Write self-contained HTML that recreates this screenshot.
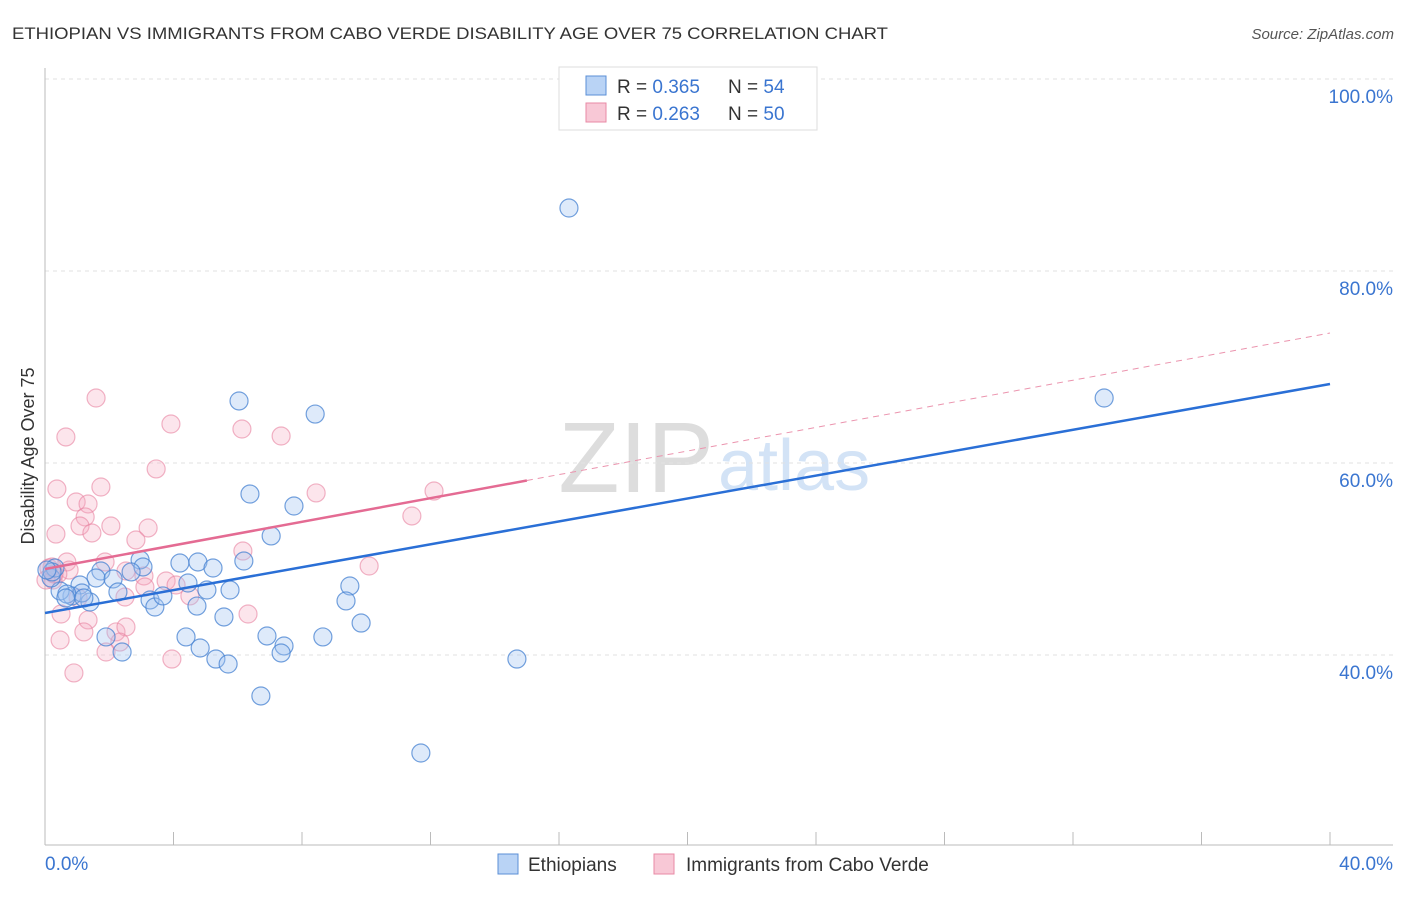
<!DOCTYPE html>
<html><head><meta charset="utf-8"><style>
body{margin:0;background:#fff;font-family:"Liberation Sans",sans-serif}
svg text{font-family:"Liberation Sans",sans-serif}
</style></head><body>
<svg id="c" width="1406" height="892">
<text x="12" y="39" font-size="17" fill="#333" textLength="876" lengthAdjust="spacingAndGlyphs">ETHIOPIAN VS IMMIGRANTS FROM CABO VERDE DISABILITY AGE OVER 75 CORRELATION CHART</text>
<text x="1394" y="39" font-size="15" fill="#555" font-style="italic" text-anchor="end">Source: ZipAtlas.com</text>
<text x="714" y="492" font-size="100" fill="#ddd" text-anchor="end" font-family="Liberation Serif">ZIP</text>
<text x="718" y="490" font-size="72" fill="#d3e3f6">atlas</text>
<text x="34" y="456" font-size="18" fill="#333" text-anchor="middle" transform="rotate(-90 34 456)">Disability Age Over 75</text>
<g id="grid"></g><g id="pts"></g><g id="lines"></g>
<g>
<rect x="559" y="67" width="258" height="63" fill="#fff" stroke="#ddd"/>
<rect x="586" y="76" width="20" height="19" fill="#b9d3f5" stroke="#5b8fd6"/>
<rect x="586" y="103" width="20" height="19" fill="#f8c8d6" stroke="#e88aa5"/>
<text x="617" y="93" font-size="19" fill="#333">R = <tspan fill="#3a75d0">0.365</tspan></text>
<text x="728" y="93" font-size="19" fill="#333">N = <tspan fill="#3a75d0">54</tspan></text>
<text x="617" y="120" font-size="19" fill="#333">R = <tspan fill="#3a75d0">0.263</tspan></text>
<text x="728" y="120" font-size="19" fill="#333">N = <tspan fill="#3a75d0">50</tspan></text>
</g>
<g>
<rect x="498" y="854" width="20" height="20" fill="#b9d3f5" stroke="#5b8fd6"/>
<text x="528" y="871" font-size="19" fill="#333">Ethiopians</text>
<rect x="654" y="854" width="20" height="20" fill="#f8c8d6" stroke="#e88aa5"/>
<text x="686" y="871" font-size="19" fill="#333">Immigrants from Cabo Verde</text>
</g>
</svg>
<script>
const blueX=[16.31,32.97,6.04,8.41,6.38,7.75,7.04,2.96,4.20,4.76,6.19,5.23,3.05,2.68,1.74,1.59,2.12,1.09,4.45,5.04,5.76,3.27,3.42,3.67,4.73,5.57,9.49,9.37,9.84,0.84,1.40,1.15,0.47,0.68,2.27,0.19,0.31,4.39,4.83,5.32,5.70,1.90,2.40,6.91,7.44,7.35,8.65,6.72,11.70,14.69,0.22,0.65,1.21,0.06];
const blueY=[86.56,66.77,66.46,65.10,56.77,55.52,52.40,49.90,49.58,49.69,49.79,49.06,49.17,48.65,48.75,48.02,47.92,47.29,47.50,46.77,46.77,45.73,45.00,46.15,45.10,43.96,47.19,45.63,43.33,46.15,45.52,46.46,46.67,46.35,46.56,48.02,49.06,41.88,40.73,39.58,39.06,41.88,40.31,41.98,40.94,40.21,41.88,35.73,29.79,39.58,48.65,45.94,45.94,48.85];
const pinkX=[1.59,3.92,0.65,6.13,7.35,3.46,0.37,1.74,0.97,1.34,1.25,1.09,0.34,1.46,2.05,3.21,2.83,6.16,8.44,12.11,11.42,10.09,0.68,0.75,0.40,0.12,0.25,2.52,3.08,3.77,4.08,3.11,4.51,1.87,0.50,1.34,1.21,0.47,2.21,2.52,2.33,1.90,3.95,0.90,6.32,0.03,0.28,0.22,1.03,2.49];
const pinkY=[66.77,64.06,62.71,63.54,62.81,59.38,57.29,57.50,55.94,55.73,54.38,53.44,52.60,52.71,53.44,53.23,51.98,50.83,56.88,57.08,54.48,49.27,49.69,48.85,48.44,49.06,47.81,48.75,48.23,47.71,47.29,47.08,46.15,49.69,44.27,43.65,42.40,41.56,42.40,42.92,41.35,40.31,39.58,38.13,44.27,47.81,48.44,49.17,45.94,46.04];
const yTicks=[40,60,80,100];
const yTickLabels=["40.0%","60.0%","80.0%","100.0%"];
const blueTrend=[44.375,68.23];
const pinkTrend=[48.96,73.54];
const pinkSolidEnd=15.0;
const NS="http://www.w3.org/2000/svg";
const X=v=>45+v/40*1285, Y=v=>655-(v-40)*9.6;
function mk(t,a,p){const e=document.createElementNS(NS,t);for(const k in a)e.setAttribute(k,a[k]);p.appendChild(e);return e;}
const grid=document.getElementById('grid');
yTicks.forEach((t,i)=>{
 const l=mk('line',{x1:45,x2:1393,y1:Y(t),y2:Y(t),stroke:'#e2e2e2','stroke-dasharray':'4,4'},grid);
 
 
 const tx=mk('text',{x:1393,y:Y(t)+24,'font-size':19,fill:'#3a75d0','text-anchor':'end'},grid);
 tx.textContent=yTickLabels[i];
 
 
});
mk('line',{x1:45,x2:45,y1:68,y2:845,stroke:'#bbb'},grid);
mk('line',{x1:45,x2:1393,y1:845,y2:845,stroke:'#bbb'},grid);
for(let i=0;i<=10;i++){const t=mk('line',{x1:X(i*4),x2:X(i*4),y1:832,y2:845,stroke:'#bbb'},grid);
 
 }
let a=mk('text',{x:45,y:870,'font-size':19,fill:'#3a75d0'},grid);a.textContent='0.0%';


a=mk('text',{x:1393,y:870,'font-size':19,fill:'#3a75d0','text-anchor':'end'},grid);a.textContent='40.0%';


const pts=document.getElementById('pts');
pinkX.forEach((x,i)=>{const c=mk('circle',{cx:X(x),cy:Y(pinkY[i]),r:9,fill:'rgba(244,170,192,0.3)',stroke:'rgba(232,130,160,0.6)','stroke-width':1.2},pts);
 
 });
blueX.forEach((x,i)=>{const c=mk('circle',{cx:X(x),cy:Y(blueY[i]),r:9,fill:'rgba(160,196,240,0.35)',stroke:'rgba(70,130,210,0.75)','stroke-width':1.2},pts);
 
 });
const lines=document.getElementById('lines');
const pAt=x=>pinkTrend[0]+(pinkTrend[1]-pinkTrend[0])*x/40;
let l=mk('line',{x1:X(pinkSolidEnd),y1:Y(pAt(pinkSolidEnd)),x2:X(40),y2:Y(pinkTrend[1]),stroke:'#eb94ae','stroke-width':1,'stroke-dasharray':'6,5'},lines);


l=mk('line',{x1:X(0),y1:Y(pinkTrend[0]),x2:X(pinkSolidEnd),y2:Y(pAt(pinkSolidEnd)),stroke:'#e46b93','stroke-width':2.5},lines);


l=mk('line',{x1:X(0),y1:Y(blueTrend[0]),x2:X(40),y2:Y(blueTrend[1]),stroke:'#2a6fd6','stroke-width':2.5},lines);


</script>
</body></html>
